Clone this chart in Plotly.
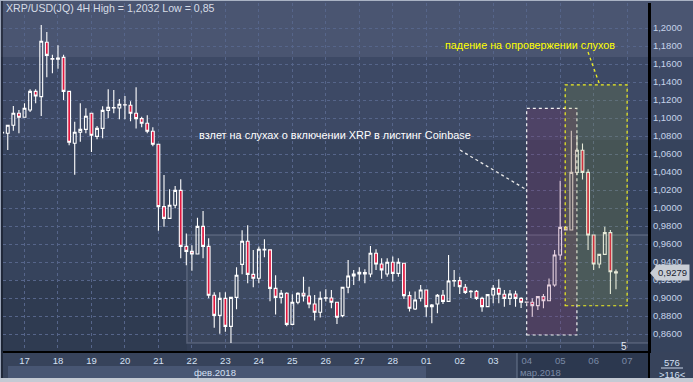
import plotly.graph_objects as go

# ---------------- data (4H candles, index 0 = 17 Feb 00:00) ----------------
candle_idx = list(range(-4, 107))
opens = [1.0840, 1.0830, 1.0919, 1.1052, 1.1008, 1.1089, 1.1296, 1.1237, 1.1841, 1.1660,
         1.1652, 1.1674, 1.1296, 1.0719, 1.0841, 1.0874, 1.1052, 1.0796, 1.0885, 1.1085,
         1.1111, 1.1111, 1.1148, 1.1141, 1.1052, 1.0993, 1.0941, 1.0852, 1.0708, 1.0015,
         0.9885, 1.0030, 1.0196, 0.9574, 0.9518, 0.9489, 0.9796, 0.9574, 0.9030, 0.8807,
         0.8996, 0.8685, 0.9007, 0.9374, 0.9630, 0.9263, 0.9219, 0.9541, 0.9535, 0.9107,
         0.9007, 0.9052, 0.8707, 0.8952, 0.9052, 0.9023, 0.8934, 0.8841, 0.8997, 0.9000,
         0.8952, 0.8804, 0.9119, 0.9245, 0.9267, 0.9282, 0.9267, 0.9497, 0.9378, 0.9267,
         0.9397, 0.9274, 0.9386, 0.9026, 0.8878, 0.8997, 0.9089, 0.8904, 0.8934, 0.9030,
         0.8963, 0.9189, 0.9193, 0.9119, 0.9074, 0.9074, 0.8996, 0.8904, 0.9033, 0.9107,
         0.9041, 0.8996, 0.9044, 0.8996, 0.8955, 0.8952, 0.8915, 0.9015, 0.8970, 0.9144,
         0.9478, 0.9785, 0.9755, 1.0396, 1.0641, 1.0396, 0.9700, 0.9378, 0.9485, 0.9726,
         0.9292]
highs = [1.0850, 1.0919, 1.1133, 1.1089, 1.1163, 1.1319, 1.1319, 1.2032, 1.1956, 1.1704,
         1.1808, 1.1704, 1.1296, 1.0959, 1.1163, 1.1108, 1.1052, 1.0911, 1.1130, 1.1319,
         1.1311, 1.1211, 1.1245, 1.1185, 1.1341, 1.1015, 1.1030, 1.0896, 1.0708, 1.0367,
         1.0207, 1.0244, 1.0319, 0.9718, 0.9585, 0.9892, 0.9967, 0.9663, 0.9063, 0.9063,
         0.9063, 0.9007, 0.9341, 0.9752, 0.9807, 0.9534, 0.9571, 0.9652, 0.9535, 0.9252,
         0.9090, 0.9063, 0.9041, 0.9063, 0.9237, 0.9126, 0.9034, 0.9071, 0.9097, 0.9089,
         0.8952, 0.9119, 0.9423, 0.9312, 0.9341, 0.9319, 0.9578, 0.9541, 0.9441, 0.9441,
         0.9460, 0.9441, 0.9386, 0.9071, 0.9071, 0.9145, 0.9089, 0.8933, 0.9045, 0.9089,
         0.9478, 0.9312, 0.9237, 0.9156, 0.9089, 0.9089, 0.9015, 0.9037, 0.9144, 0.9207,
         0.9089, 0.9089, 0.9081, 0.9007, 0.8960, 0.8996, 0.9015, 0.9044, 0.9218, 0.9533,
         1.0304, 0.9800, 1.0859, 1.0811, 1.0718, 1.0430, 0.9700, 0.9485, 0.9792, 0.9755,
         0.9318]
lows = [1.0830, 1.0645, 1.0859, 1.0830, 1.1008, 1.1067, 1.1163, 1.1022, 1.1452, 1.1496,
        1.1548, 1.1200, 1.0696, 1.0370, 1.0737, 1.0830, 1.0622, 1.0763, 1.0774, 1.0996,
        1.1052, 1.0985, 1.0985, 1.0963, 1.0882, 1.0896, 1.0830, 1.0685, 0.9748, 0.9792,
        0.9885, 0.9996, 0.9441, 0.9363, 0.9304, 0.9489, 0.9441, 0.8996, 0.8670, 0.8604,
        0.8626, 0.8500, 0.8874, 0.9263, 0.9163, 0.9119, 0.9163, 0.9452, 0.8963, 0.8818,
        0.8940, 0.8685, 0.8696, 0.8930, 0.8960, 0.8886, 0.8749, 0.8782, 0.8960, 0.8886,
        0.8712, 0.8786, 0.9052, 0.9145, 0.9193, 0.9163, 0.9230, 0.9312, 0.9215, 0.9237,
        0.9182, 0.9237, 0.8989, 0.8849, 0.8867, 0.8960, 0.8793, 0.8719, 0.8830, 0.8934,
        0.8963, 0.9126, 0.9045, 0.9045, 0.9000, 0.8978, 0.8848, 0.8904, 0.8941, 0.8941,
        0.8904, 0.8922, 0.8904, 0.8889, 0.8950, 0.8792, 0.8867, 0.8885, 0.8970, 0.9126,
        0.9422, 0.9750, 0.9755, 1.0367, 1.0318, 0.9533, 0.9311, 0.9330, 0.9485, 0.9044,
        0.9096]
closes = [1.0835, 1.0919, 1.1052, 1.1008, 1.1108, 1.1296, 1.1245, 1.1852, 1.1696, 1.1652,
          1.1667, 1.1296, 1.0730, 1.0841, 1.0874, 1.1019, 1.0808, 1.0885, 1.1085, 1.1119,
          1.1115, 1.1152, 1.1145, 1.1052, 1.0993, 1.0941, 1.0852, 1.0708, 1.0015, 0.9885,
          1.0030, 1.0196, 0.9574, 0.9518, 0.9489, 0.9796, 0.9574, 0.9030, 0.8807, 0.8996,
          0.8685, 0.9007, 0.9252, 0.9630, 0.9263, 0.9219, 0.9541, 0.9535, 0.9107, 0.9007,
          0.9052, 0.8707, 0.8952, 0.9052, 0.9023, 0.8934, 0.8841, 0.8997, 0.9003, 0.8952,
          0.8786, 0.9119, 0.9245, 0.9267, 0.9286, 0.9267, 0.9497, 0.9378, 0.9312, 0.9397,
          0.9274, 0.9397, 0.9026, 0.8886, 0.8978, 0.9089, 0.8904, 0.8922, 0.9030, 0.8963,
          0.9189, 0.9193, 0.9126, 0.9063, 0.9070, 0.8996, 0.8904, 0.9037, 0.9107, 0.9041,
          0.8996, 0.9044, 0.8996, 0.8952, 0.8952, 0.8915, 0.9015, 0.8970, 0.9144, 0.9478,
          0.9785, 0.9755, 1.0396, 1.0641, 1.0396, 0.9700, 0.9378, 0.9485, 0.9726, 0.9292,
          0.9279]

day_ticks = [0, 6, 12, 18, 24, 30, 36, 42, 48, 54, 60, 66, 72, 78, 84, 90, 96, 102, 108]
day_labels = ["17", "18", "19", "20", "21", "22", "23", "24", "25", "26", "27", "28",
              "01", "02", "03", "04", "05", "06", "07"]
dim_from = 15  # labels from this position on are shown dimmed

price_ticks = [0.86 + 0.02 * k for k in range(18)]
price_labels = [("%.4f" % v).replace(".", ",") for v in price_ticks]

last_price = 0.9279
title_text = "XRP/USD(JQ) 4H High = 1,2032 Low = 0,85"
note_rise = "взлет на слухах о включении XRP в листинг Coinbase"
note_fall = "падение на опровержении слухов"

# ---------------- figure ----------------
W, H = 693, 382
ML, MR, MT, MB = 3, 44, 3, 31
PW, PH = W - ML - MR, H - MT - MB


def px(xp):
    return (xp - ML) / PW


def py(yp):
    return (H - MB - yp) / PH


BRIGHT = "#d4e0f4"
DIM = "#7b8aa6"
F = "Liberation Sans"

fig = go.Figure(go.Candlestick(
    x=candle_idx, open=opens, high=highs, low=lows, close=closes,
    increasing=dict(line=dict(color="#ffffff", width=1.1), fillcolor="rgba(0,0,0,0)"),
    decreasing=dict(line=dict(color="#ffffff", width=1.1), fillcolor="#e2173f"),
    whiskerwidth=0, showlegend=False, hoverinfo="skip",
))

ticktext = [t if k < dim_from else "<span style='color:%s'>%s</span>" % (DIM, t)
            for k, t in enumerate(day_labels)]

grid_col = "#56658a"
fig.update_xaxes(
    range=[-3.853, 111.92], tickmode="array", tickvals=day_ticks, ticktext=ticktext,
    showgrid=True, gridcolor=grid_col, griddash="3px,3px", gridwidth=1,
    zeroline=False, showline=True, linecolor="#000000", linewidth=2,
    rangeslider_visible=False, ticks="", tickfont=dict(color=BRIGHT, size=9.5, family=F),
    fixedrange=True,
)
fig.update_yaxes(
    range=[0.84111, 1.22778], side="right", tickmode="array", tickvals=price_ticks,
    ticktext=price_labels, showgrid=True, gridcolor=grid_col, griddash="3px,3px",
    gridwidth=1, zeroline=False, showline=True, linecolor="#000000", linewidth=2,
    ticks="", tickfont=dict(color="#c6d3ea", size=9.5, family=F),
    fixedrange=True,
)

shapes = []
# background bands (paper)
bands = [
    (0, 57, 0, W, "#4a5571"),
    (57, 140, 0, W, "#3d4965"),
    (280, 352, 0, 187, "#2f3b51"),
    (300, 352, 187, 649, "#333f57"),
    (352, 379, 0, W, "#37435b"),
    (366, 378, 8, 426, "#485673"),
    (352, 378, 517, 649, "#2c384f"),
    (378, 382, 0, W, "#c4cad4"),
]
for y0, y1, x0, x1, col in bands:
    shapes.append(dict(type="rect", xref="paper", yref="paper", x0=px(x0), x1=px(x1),
                       y0=py(y1), y1=py(y0), fillcolor=col, line=dict(width=0),
                       layer="below"))
# frame lines
shapes += [
    dict(type="line", xref="paper", yref="paper", x0=px(0.5), x1=px(0.5), y0=py(378), y1=py(0),
         line=dict(color="#9aa4b8", width=1)),
    dict(type="line", xref="paper", yref="paper", x0=px(2), x1=px(2), y0=py(378), y1=py(0),
         line=dict(color="#0a0f18", width=1)),
    dict(type="line", xref="paper", yref="paper", x0=px(0), x1=px(W), y0=py(0.5), y1=py(0.5),
         line=dict(color="#aab3c4", width=1)),
    dict(type="line", xref="paper", yref="paper", x0=1, x1=1, y0=py(378), y1=1,
         line=dict(color="#000000", width=2)),
    dict(type="line", xref="paper", yref="paper", x0=px(517), x1=px(517), y0=py(378), y1=py(353),
         line=dict(color="#6a7890", width=1)),
    dict(type="line", xref="paper", yref="paper", x0=px(661), x1=px(683), y0=py(368), y1=py(368),
         line=dict(color="#c8d4e8", width=1)),
]
# highlighted range box
shapes.append(dict(type="rect", xref="x", yref="y", x0=29.1, x1=113, y0=0.85, y1=0.97,
                   fillcolor="rgba(255,255,255,0.04)",
                   line=dict(color="rgba(200,210,230,0.22)", width=1.5), layer="below"))
# rise box (purple) and fall box (olive)
shapes.append(dict(type="rect", xref="x", yref="y", x0=90, x1=99, y0=0.8589, y1=1.1108,
                   fillcolor="rgba(140,45,110,0.22)",
                   line=dict(color="#f2f2f2", width=1.2, dash="dot"), layer="above"))
shapes.append(dict(type="rect", xref="x", yref="y", x0=96.9, x1=108, y0=0.8914, y1=1.1367,
                   fillcolor="rgba(135,155,60,0.2)",
                   line=dict(color="#f0f020", width=1.2, dash="dot"), layer="above"))
# callout lines
shapes.append(dict(type="line", xref="x", yref="y", x0=78.05, y0=1.0644, x1=90.05, y1=1.02,
                   line=dict(color="#e8e8e8", width=1.3, dash="dot"), layer="above"))
shapes.append(dict(type="line", xref="x", yref="y", x0=100.99, y0=1.1733, x1=103.1, y1=1.1367,
                   line=dict(color="#f0f020", width=1.3, dash="dot"), layer="above"))
# last price marker arrow
shapes.append(dict(type="path", xref="paper", yref="paper",
                   path="M %f,%f L %f,%f L %f,%f Z" % (px(650), py(273), px(656), py(266),
                                                      px(656), py(280)),
                   fillcolor="#c8cdd5", line=dict(width=0)))

annotations = [
    dict(text=title_text, xref="paper", yref="paper", x=px(4), y=py(8.5), xanchor="left",
         yanchor="middle", showarrow=False, font=dict(family=F, size=10.6, color="#d6dce6")),
    dict(text=note_rise, xref="x", yref="y", x=55.65, y=1.0811, showarrow=False,
         font=dict(family=F, size=10.9, color="#ffffff")),
    dict(text=note_fall, xref="x", yref="y", x=90.6, y=1.1811, showarrow=False,
         font=dict(family=F, size=10.8, color="#ffff00")),
    dict(text="5", xref="x", yref="y", x=107.5, y=0.8456, showarrow=False,
         font=dict(family=F, size=10, color="#e6ecf6")),
    dict(text="фев.2018", xref="paper", yref="paper", x=px(238), y=py(372), xanchor="right",
         yanchor="middle", showarrow=False, font=dict(family=F, size=9.5, color=BRIGHT)),
    dict(text="мар.2018", xref="paper", yref="paper", x=px(518), y=py(372), xanchor="left",
         yanchor="middle", showarrow=False, font=dict(family=F, size=9.5, color=DIM)),
    dict(text="576", xref="paper", yref="paper", x=px(672), y=py(362.5), xanchor="center",
         yanchor="middle", showarrow=False, font=dict(family=F, size=9.5, color=BRIGHT)),
    dict(text=">116<", xref="paper", yref="paper", x=px(672), y=py(375), xanchor="center",
         yanchor="middle", showarrow=False, font=dict(family=F, size=9.5, color=BRIGHT)),
    dict(text=("%.4f" % last_price).replace(".", ","), xref="paper", yref="y", x=px(655),
         y=last_price, xanchor="left", yanchor="middle", showarrow=False,
         bgcolor="#c8cdd5", borderpad=2, font=dict(family=F, size=9.5, color="#18202e")),
]

fig.update_layout(
    width=W, height=H, margin=dict(l=ML, r=MR, t=MT, b=MB, pad=0),
    paper_bgcolor="#36435c", plot_bgcolor="rgba(0,0,0,0)",
    shapes=shapes, annotations=annotations, boxgap=0.28, showlegend=False,
    font=dict(family=F),
)

fig.write_html("out.html", config={"displayModeBar": False, "staticPlot": True},
               post_script="document.body.style.margin='0px';"
                           "document.body.style.overflow='hidden';")
